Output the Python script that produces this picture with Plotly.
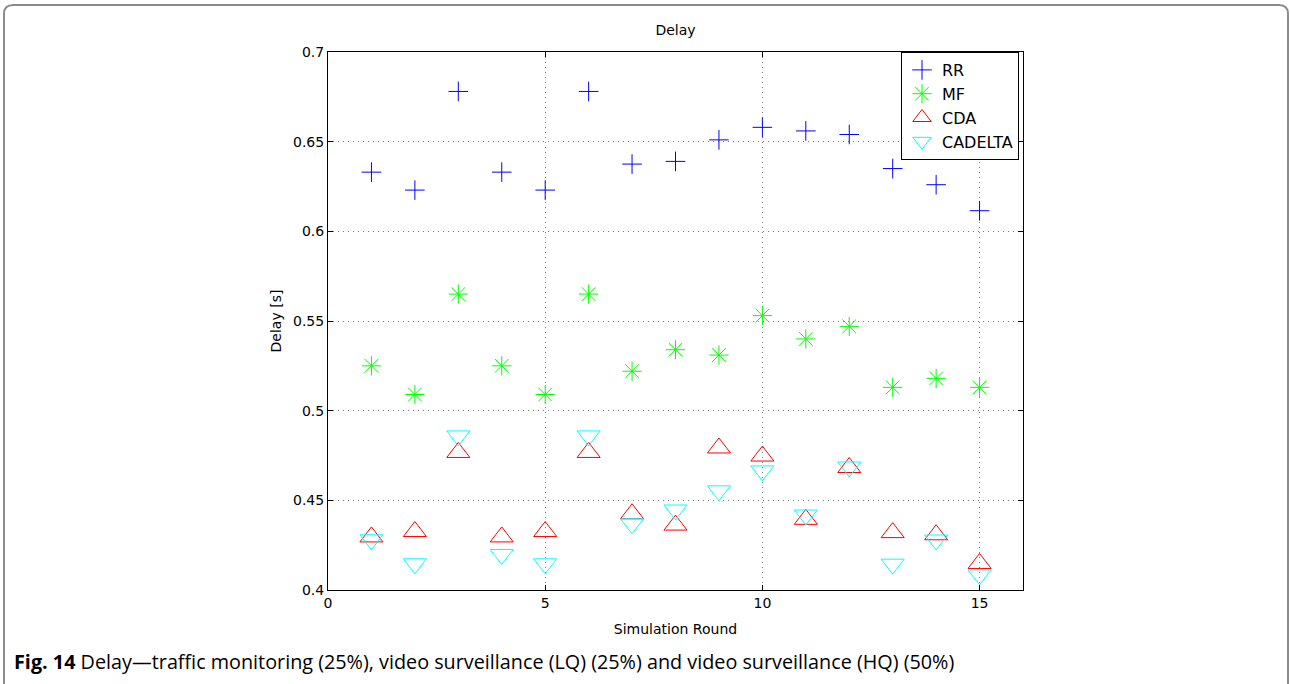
import plotly.graph_objects as go

rounds = list(range(1, 16))
rr = [0.633, 0.623, 0.678, 0.633, 0.623, 0.678, 0.6375, 0.639, 0.651, 0.658, 0.656, 0.654, 0.635, 0.626, 0.6115]
mf = [0.525, 0.509, 0.565, 0.525, 0.509, 0.565, 0.522, 0.534, 0.531, 0.553, 0.540, 0.547, 0.513, 0.518, 0.513]
cda = [0.4296, 0.4326, 0.4767, 0.4296, 0.4326, 0.4767, 0.4425, 0.4362, 0.4792, 0.4747, 0.4394, 0.4683, 0.4320, 0.4308, 0.4148]
cadelta = [0.428, 0.4146, 0.4859, 0.4198, 0.4146, 0.4859, 0.4369, 0.4446, 0.4553, 0.4664, 0.4418, 0.4686, 0.4144, 0.4279, 0.4084]

x_ticks = [0, 5, 10, 15]
y_ticks = [0.4, 0.45, 0.5, 0.55, 0.6, 0.65, 0.7]
y_tick_labels = ["0.4", "0.45", "0.5", "0.55", "0.6", "0.65", "0.7"]

FONT = "DejaVu Sans"

fig = go.Figure()
fig.add_trace(go.Scatter(x=rounds, y=rr, mode="markers", name="RR",
                         marker=dict(symbol="cross-thin-open", size=14, color="#0000FF",
                                     line=dict(color="#0000FF", width=1))))
fig.add_trace(go.Scatter(x=rounds, y=mf, mode="markers", name="MF",
                         marker=dict(symbol="asterisk-open", size=16, color="#00FF00",
                                     line=dict(color="#00FF00", width=1))))
fig.add_trace(go.Scatter(x=rounds, y=cda, mode="markers", name="CDA",
                         marker=dict(symbol="triangle-up-open", size=20, color="#FF0000",
                                     line=dict(color="#FF0000", width=1))))
fig.add_trace(go.Scatter(x=rounds, y=cadelta, mode="markers", name="CADELTA",
                         marker=dict(symbol="triangle-down-open", size=20, color="#00FFFF",
                                     line=dict(color="#00FFFF", width=1))))

W, H = 1290, 684
L, R, T, B = 328, 267, 52, 94
pw, ph = W - L - R, H - T - B

def px(xp):
    return (xp - L) / pw

def py(yp):
    return (H - B - yp) / ph

axis_common = dict(
    showline=True, linecolor="black", linewidth=1, mirror="ticks",
    ticks="inside", ticklen=5, tickcolor="black", tickwidth=1,
    showgrid=True, gridcolor="#7a7a7a", gridwidth=1, griddash="1px,4px",
    zeroline=False, tickfont=dict(family=FONT, size=14, color="black"),
)

fig.update_xaxes(range=[0, 16], tickvals=x_ticks, ticktext=[str(v) for v in x_ticks],
                 title=dict(text="Simulation Round", font=dict(family=FONT, size=14, color="black"), standoff=14),
                 **axis_common)
fig.update_yaxes(range=[0.4, 0.7], tickvals=y_ticks, ticktext=y_tick_labels,
                 title=dict(text="Delay [s]", font=dict(family=FONT, size=14, color="black"), standoff=8),
                 **axis_common)

r = 9
x0, x1 = 4, 1288
y0, y1 = 5, 720
path = (f"M {px(x0)},{py(y0 + r)} "
        f"Q {px(x0)},{py(y0)} {px(x0 + r)},{py(y0)} "
        f"L {px(x1 - r)},{py(y0)} "
        f"Q {px(x1)},{py(y0)} {px(x1)},{py(y0 + r)} "
        f"L {px(x1)},{py(y1)} L {px(x0)},{py(y1)} Z")

fig.update_layout(
    width=W, height=H,
    margin=dict(l=L, r=R, t=T, b=B, autoexpand=False),
    paper_bgcolor="white", plot_bgcolor="white",
    font=dict(family=FONT, size=14, color="black"),
    title=dict(text="Delay", x=(L + pw / 2) / W, xanchor="center",
               y=1 - 30 / H, yanchor="middle", font=dict(family=FONT, size=14, color="black")),
    showlegend=True,
    legend=dict(x=px(1019), xanchor="right", y=py(52), yanchor="top",
                bgcolor="white", bordercolor="black", borderwidth=1,
                font=dict(family=FONT, size=16, color="black"),
                tracegroupgap=0, itemwidth=30),
    shapes=[dict(type="path", xref="paper", yref="paper", path=path,
                 line=dict(color="#8c8c8c", width=2), fillcolor="rgba(0,0,0,0)", layer="below")],
    annotations=[dict(text="<b>Fig. 14</b> Delay\u2014traffic monitoring (25%), video surveillance (LQ) (25%) and video surveillance (HQ) (50%)",
                      xref="paper", yref="paper", x=px(12), y=py(661), xanchor="left", yanchor="middle",
                      showarrow=False, font=dict(family="Open Sans", size=19.8, color="black"))],
)

fig.write_html("out.html", config={"displayModeBar": False},
               post_script="document.body.style.margin='0px';document.body.style.overflow='hidden';")
